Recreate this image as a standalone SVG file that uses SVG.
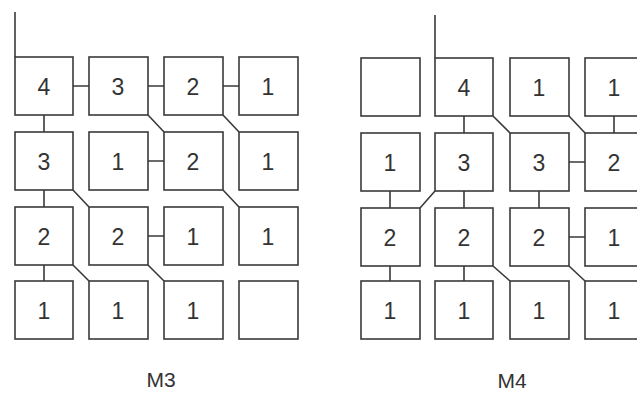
<svg xmlns="http://www.w3.org/2000/svg" width="637" height="396" viewBox="0 0 637 396">
<style>
.b{fill:#fff;stroke:#3a3a3a;stroke-width:1.6}
.t{font-family:"Liberation Sans",Arial,sans-serif;font-size:23px;fill:#333;text-anchor:middle}
.l{font-family:"Liberation Sans",Arial,sans-serif;font-size:21px;fill:#333;text-anchor:middle}
.c{stroke:#3a3a3a;stroke-width:1.6;fill:none}
</style>
<rect width="637" height="396" fill="#fff"/>
<g id="connectors" class="c">
<path d="M15 12V57"/>
<path d="M73 86H89M148 86H164M223 86H239"/>
<path d="M44 115V132M44 190V207M44 265V281"/>
<path d="M148 115L164 132M223 115L239 132M73 190L89 207M223 190L239 207M73 265L89 281M148 265L164 281"/>
<path d="M148 161H164M148 236H164"/>
<path d="M435 15V58"/>
<path d="M464 116V133M464 191V208M464 266V281M614 116V133M390 191V208M390 266V281M539 191V208"/>
<path d="M493 116L510 133M569 116L585 133M435 191L420 208M493 266L510 281M569 266L585 281"/>
<path d="M569 162H585M569 237H585"/>
</g>
<g id="m3">
<g id="m3-r1c1"><rect class="b" x="15" y="57" width="58" height="58"/><text class="t" x="44" y="94.5">4</text></g>
<g id="m3-r1c2"><rect class="b" x="89" y="57" width="59" height="58"/><text class="t" x="118" y="94.5">3</text></g>
<g id="m3-r1c3"><rect class="b" x="164" y="57" width="59" height="58"/><text class="t" x="193" y="94.5">2</text></g>
<g id="m3-r1c4"><rect class="b" x="239" y="57" width="59" height="58"/><text class="t" x="268" y="94.5">1</text></g>
<g id="m3-r2c1"><rect class="b" x="15" y="132" width="58" height="58"/><text class="t" x="44" y="169.5">3</text></g>
<g id="m3-r2c2"><rect class="b" x="89" y="132" width="59" height="58"/><text class="t" x="118" y="169.5">1</text></g>
<g id="m3-r2c3"><rect class="b" x="164" y="132" width="59" height="58"/><text class="t" x="193" y="169.5">2</text></g>
<g id="m3-r2c4"><rect class="b" x="239" y="132" width="59" height="58"/><text class="t" x="268" y="169.5">1</text></g>
<g id="m3-r3c1"><rect class="b" x="15" y="207" width="58" height="58"/><text class="t" x="44" y="244.5">2</text></g>
<g id="m3-r3c2"><rect class="b" x="89" y="207" width="59" height="58"/><text class="t" x="118" y="244.5">2</text></g>
<g id="m3-r3c3"><rect class="b" x="164" y="207" width="59" height="58"/><text class="t" x="193" y="244.5">1</text></g>
<g id="m3-r3c4"><rect class="b" x="239" y="207" width="59" height="58"/><text class="t" x="268" y="244.5">1</text></g>
<g id="m3-r4c1"><rect class="b" x="15" y="281" width="58" height="58"/><text class="t" x="44" y="318.5">1</text></g>
<g id="m3-r4c2"><rect class="b" x="89" y="281" width="59" height="58"/><text class="t" x="118" y="318.5">1</text></g>
<g id="m3-r4c3"><rect class="b" x="164" y="281" width="59" height="58"/><text class="t" x="193" y="318.5">1</text></g>
<g id="m3-r4c4"><rect class="b" x="239" y="281" width="59" height="58"/></g>
<text id="m3-label" class="l" x="161" y="387">M3</text>
</g>
<g id="m4">
<g id="m4-r1c1"><rect class="b" x="361" y="58" width="59" height="58"/></g>
<g id="m4-r1c2"><rect class="b" x="435" y="58" width="58" height="58"/><text class="t" x="464" y="95.5">4</text></g>
<g id="m4-r1c3"><rect class="b" x="510" y="58" width="59" height="58"/><text class="t" x="539" y="95.5">1</text></g>
<g id="m4-r1c4"><rect class="b" x="585" y="58" width="59" height="58"/><text class="t" x="614" y="95.5">1</text></g>
<g id="m4-r2c1"><rect class="b" x="361" y="133" width="59" height="58"/><text class="t" x="390" y="170.5">1</text></g>
<g id="m4-r2c2"><rect class="b" x="435" y="133" width="58" height="58"/><text class="t" x="464" y="170.5">3</text></g>
<g id="m4-r2c3"><rect class="b" x="510" y="133" width="59" height="58"/><text class="t" x="539" y="170.5">3</text></g>
<g id="m4-r2c4"><rect class="b" x="585" y="133" width="59" height="58"/><text class="t" x="614" y="170.5">2</text></g>
<g id="m4-r3c1"><rect class="b" x="361" y="208" width="59" height="58"/><text class="t" x="390" y="245.5">2</text></g>
<g id="m4-r3c2"><rect class="b" x="435" y="208" width="58" height="58"/><text class="t" x="464" y="245.5">2</text></g>
<g id="m4-r3c3"><rect class="b" x="510" y="208" width="59" height="58"/><text class="t" x="539" y="245.5">2</text></g>
<g id="m4-r3c4"><rect class="b" x="585" y="208" width="59" height="58"/><text class="t" x="614" y="245.5">1</text></g>
<g id="m4-r4c1"><rect class="b" x="361" y="281" width="59" height="58"/><text class="t" x="390" y="318.5">1</text></g>
<g id="m4-r4c2"><rect class="b" x="435" y="281" width="58" height="58"/><text class="t" x="464" y="318.5">1</text></g>
<g id="m4-r4c3"><rect class="b" x="510" y="281" width="59" height="58"/><text class="t" x="539" y="318.5">1</text></g>
<g id="m4-r4c4"><rect class="b" x="585" y="281" width="59" height="58"/><text class="t" x="614" y="318.5">1</text></g>
<text id="m4-label" class="l" x="512" y="388">M4</text>
</g>
</svg>
